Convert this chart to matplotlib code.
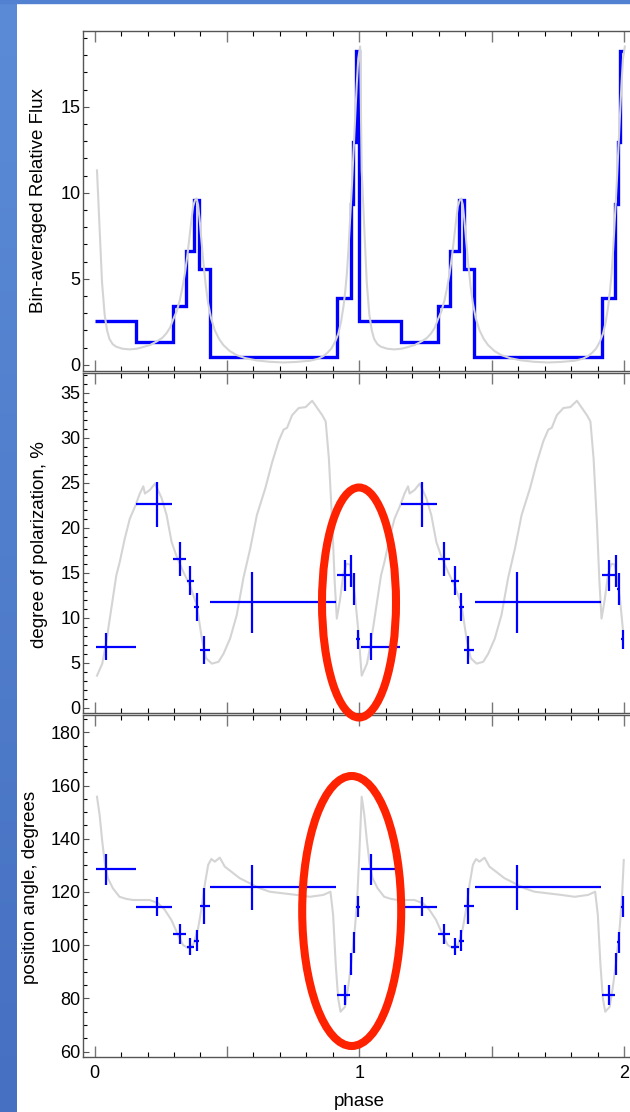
import matplotlib
matplotlib.use("Agg")
import matplotlib.pyplot as plt
import numpy as np
from matplotlib.patches import Ellipse
from matplotlib.ticker import MultipleLocator, FuncFormatter

plt.rcParams['font.family'] = ['Liberation Sans', 'DejaVu Sans']

# --- data (one period, repeated for phase 1..2) ---
flux_edges = [0.0, 0.156, 0.296, 0.344, 0.376, 0.394, 0.435, 0.916, 0.967, 0.976, 0.986, 1.0]
flux_vals = [2.54, 1.32, 3.41, 6.61, 9.58, 5.56, 0.47, 3.90, 9.32, 12.93, 18.26]

flux_ph = [0.009, 0.014, 0.019, 0.028, 0.038, 0.047, 0.056, 0.068, 0.081, 0.105, 0.132,
           0.16, 0.182, 0.21, 0.233, 0.255, 0.271, 0.285, 0.296, 0.31, 0.322, 0.332,
           0.341, 0.35, 0.357, 0.365, 0.372, 0.379, 0.385, 0.391, 0.397, 0.404, 0.41,
           0.42, 0.429, 0.44, 0.454, 0.47, 0.486, 0.51, 0.536, 0.57, 0.612, 0.66,
           0.713, 0.76, 0.814, 0.845, 0.864, 0.88, 0.895, 0.909, 0.921, 0.931, 0.94,
           0.947, 0.953, 0.959, 0.965, 0.972, 0.978, 0.984, 0.99, 0.996, 1.003]
flux_model = [11.3, 9.6, 8.0, 4.8, 2.9, 2.0, 1.5, 1.2, 1.05, 0.93, 0.89,
              0.93, 1.02, 1.15, 1.34, 1.55, 1.82, 2.15, 2.6, 3.1, 3.76, 4.5,
              5.3, 6.3, 7.25, 8.3, 9.2, 9.55, 9.67, 9.3, 8.4, 7.2, 6.1,
              4.6, 3.57, 2.7, 2.0, 1.5, 1.15, 0.8, 0.56, 0.38, 0.25, 0.17,
              0.13, 0.16, 0.23, 0.35, 0.5, 0.7, 0.95, 1.35, 1.82, 2.5, 3.37,
              4.3, 5.3, 6.7, 8.4, 10.4, 12.3, 14.3, 16.2, 17.8, 18.5]

pol_ph = [0.009, 0.029, 0.044, 0.063, 0.082, 0.095, 0.114, 0.133, 0.152, 0.171, 0.184,
          0.19, 0.209, 0.228, 0.253, 0.272, 0.291, 0.31, 0.335, 0.36, 0.386, 0.405,
          0.421, 0.443, 0.468, 0.487, 0.512, 0.537, 0.562, 0.588, 0.613, 0.645, 0.67,
          0.695, 0.714, 0.727, 0.746, 0.771, 0.797, 0.822, 0.841, 0.86, 0.873, 0.885,
          0.898, 0.907, 0.915, 0.927, 0.94, 0.952, 0.965, 0.984, 0.996]
pol_model = [3.56, 4.9, 7.3, 11.0, 14.7, 16.2, 18.8, 21.0, 22.3, 23.8, 24.6,
             23.8, 24.2, 24.9, 23.3, 21.4, 18.4, 16.8, 15.1, 13.6, 11.4, 7.7,
             5.5, 4.9, 5.1, 6.0, 7.7, 10.3, 14.4, 17.7, 21.4, 24.4, 27.2,
             29.6, 30.9, 31.1, 32.5, 33.3, 33.4, 34.1, 33.3, 32.5, 31.8, 27.7,
             20.3, 14.0, 9.9, 12.0, 14.9, 16.0, 15.9, 12.3, 8.6]

pa_ph = [0.009, 0.019, 0.029, 0.038, 0.05, 0.069, 0.094, 0.12, 0.145, 0.176, 0.208,
         0.24, 0.265, 0.29, 0.315, 0.334, 0.353, 0.372, 0.391, 0.404, 0.416, 0.429,
         0.441, 0.454, 0.473, 0.492, 0.517, 0.548, 0.586, 0.624, 0.662, 0.712, 0.763,
         0.813, 0.864, 0.891, 0.901, 0.911, 0.92, 0.929, 0.946, 0.958, 0.971, 0.984,
         0.993, 0.999]
pa_model = [155.8, 148.9, 138.9, 131.4, 125.2, 121.4, 118.2, 117.4, 117.0, 117.0, 117.0,
            115.8, 113.3, 109.5, 103.9, 100.1, 98.9, 100.1, 106.4, 113.9, 122.6, 130.2,
            132.4, 131.4, 132.9, 129.5, 127.6, 125.2, 123.3, 121.4, 120.1, 119.5, 118.9,
            118.2, 118.9, 120.1, 111.4, 92.6, 80.1, 75.0, 76.9, 84.4, 94.5, 107.0,
            119.5, 132.0]

pt_ph = [0.044, 0.236, 0.321, 0.361, 0.386, 0.412, 0.595, 0.945, 0.969, 0.980, 0.995]
bin_lo = [0.006, 0.158, 0.296, 0.348, 0.377, 0.397, 0.437, 0.917, 0.967, 0.975, 0.988]
bin_hi = [0.155, 0.294, 0.344, 0.376, 0.396, 0.435, 0.913, 0.965, 0.972, 0.985, 1.001]
pol = [6.8, 22.6, 16.5, 14.1, 11.2, 6.4, 11.7, 14.7, 15.2, 13.2, 7.6]
pol_err = [1.45, 2.5, 1.9, 1.6, 1.55, 1.55, 3.4, 1.75, 1.8, 1.75, 1.05]
pa = [128.5, 114.5, 104.2, 99.5, 101.7, 114.9, 121.8, 81.3, 92.9, 101.1, 114.5]
pa_err = [5.8, 3.45, 3.6, 3.25, 4.05, 6.75, 8.45, 3.7, 4.1, 4.0, 4.0]


def two(a, shift=True):
    a = np.asarray(a, float)
    return np.concatenate([a, a + 1]) if shift else np.concatenate([a, a])


W, H = 630, 1112
fig = plt.figure(figsize=(W / 100, H / 100), dpi=100)


def rect(l, t, r, b):
    return [l / W, 1 - b / H, (r - l) / W, (b - t) / H]


# blue slide background strips
grad = np.linspace(0, 1, 256).reshape(-1, 1)
bg = fig.add_axes([0, 0, 16.7 / W, 1])
bg.imshow(grad, aspect='auto', cmap=matplotlib.colors.LinearSegmentedColormap.from_list(
    'bg', ['#5b8bd6', '#4670c2']), extent=[0, 1, 0, 1])
bg.axis('off')
fig.patches.append(plt.Rectangle((0, 1 - 3 / H), 1, 3 / H, transform=fig.transFigure,
                                 color='#5181d0', zorder=0))

gray = '#d4d4d4'
blue = '#0000ff'
xl = (-0.0427, 2.049)

ax1 = fig.add_axes(rect(83.3, 30.7, 637, 371))
ax2 = fig.add_axes(rect(83.3, 373, 637, 713.3))
ax3 = fig.add_axes(rect(83.3, 715, 637, 1056.7))

ax1.plot(two(flux_ph), two(flux_model, False), color=gray, lw=1.5)
edges = np.concatenate([flux_edges, np.asarray(flux_edges[1:]) + 1])
ax1.stairs(two(flux_vals, False), edges, color=blue, lw=2.4, baseline=None)
ax1.set_ylim(-0.366, 19.42)

ph2 = two(pt_ph)
xerr = [ph2 - two(bin_lo), two(bin_hi) - ph2]
ax2.plot(two(pol_ph), two(pol_model, False), color=gray, lw=1.5)
ax2.errorbar(ph2, two(pol, False), yerr=two(pol_err, False), xerr=xerr, fmt='none',
             ecolor=blue, elinewidth=1.6, capsize=0)
ax2.set_ylim(-0.62, 37.19)

ax3.plot(two(pa_ph), two(pa_model, False), color=gray, lw=1.5)
ax3.errorbar(ph2, two(pa, False), yerr=two(pa_err, False), xerr=xerr, fmt='none',
             ecolor=blue, elinewidth=1.6, capsize=0)
ax3.set_ylim(58.12, 186.5)

for ax, ymaj, ymin in [(ax1, 5, 1), (ax2, 5, 1), (ax3, 20, 5)]:
    ax.set_xlim(*xl)
    ax.xaxis.set_major_locator(MultipleLocator(0.5))
    ax.xaxis.set_minor_locator(MultipleLocator(0.1))
    ax.yaxis.set_major_locator(MultipleLocator(ymaj))
    ax.yaxis.set_minor_locator(MultipleLocator(ymin))
    ax.tick_params(axis='both', which='both', direction='in', top=True, right=True,
                   labelsize=13, pad=2)
    ax.tick_params(axis='x', which='major', length=8, width=1, color='#777777')
    ax.tick_params(axis='x', which='minor', length=3.6, width=0.8)
    ax.tick_params(axis='y', which='major', length=4.3, width=0.8, color='#555555')
    ax.tick_params(axis='y', which='minor', length=2.9, width=0.8)
    for s in ax.spines.values():
        s.set_color('#555555')
        s.set_linewidth(1.0)
    if ax is ax3:
        ax.xaxis.set_major_formatter(FuncFormatter(
            lambda v, p: '%d' % round(v) if abs(v - round(v)) < 1e-6 else ''))
        ax.tick_params(axis='x', which='major', pad=6)
    else:
        ax.set_xticklabels([])

fig.text(39 / W, 1 - 201 / H, 'Bin-averaged Relative Flux', rotation=90,
         ha='center', va='center', fontsize=13.5)
fig.text(40 / W, 1 - 545 / H, 'degree of polarization, %', rotation=90,
         ha='center', va='center', fontsize=13.5)
fig.text(31 / W, 1 - 887 / H, 'position angle, degrees', rotation=90,
         ha='center', va='center', fontsize=13.5)
fig.text(359 / W, 1 - 1102 / H, 'phase', ha='center', va='center', fontsize=13.5)

# red highlight ellipses
for cx, cy, w, h in [(359, 602.5, 74, 230), (351.7, 911, 99, 270)]:
    fig.patches.append(Ellipse((cx / W, 1 - cy / H), w / W, h / H, transform=fig.transFigure,
                               fill=False, ec='#ff2200', lw=5.8, zorder=10))

fig.savefig('out.png', dpi=100)
